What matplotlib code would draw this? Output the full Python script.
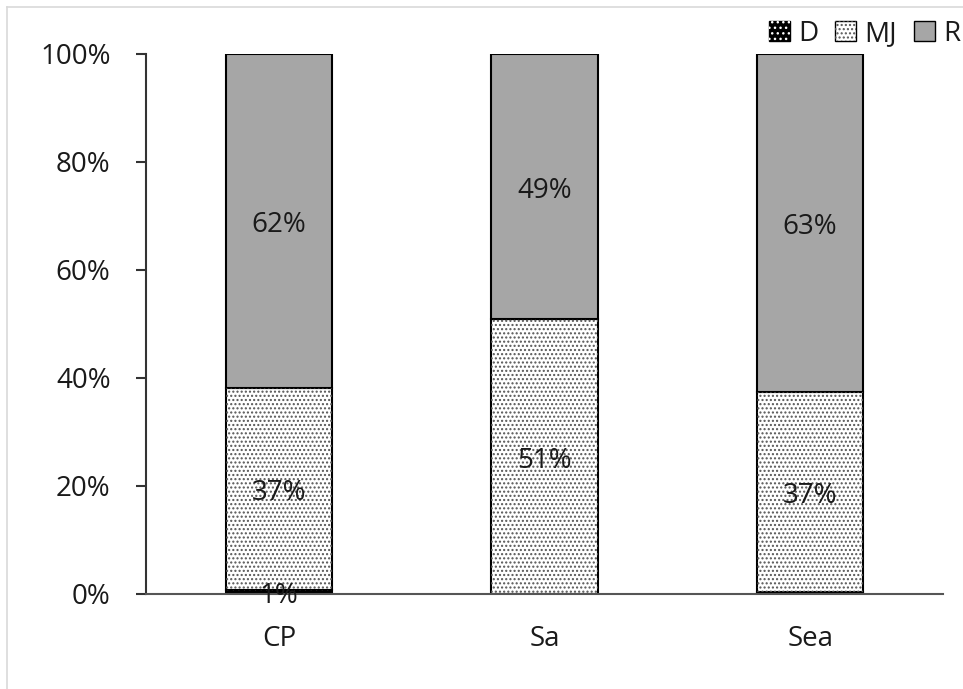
import matplotlib
matplotlib.use("Agg")
import matplotlib.pyplot as plt
from matplotlib.patches import Rectangle
from matplotlib.lines import Line2D
import matplotlib.transforms as mtransforms
import numpy as np

plt.rcParams['font.family'] = ['Open Sans', 'DejaVu Sans']
plt.rcParams['hatch.linewidth'] = 1.0

# Share of each stage per site (percent)
categories = ['CP', 'Sa', 'Sea']
d_vals = [0.7, 0.0, 0.3]
mj_vals = [37.4, 50.9, 37.1]
r_vals = [61.9, 49.1, 62.6]
series_names = ['D', 'MJ', 'R']
y_ticks = [0, 20, 40, 60, 80, 100]

W, H = 963, 689
fig = plt.figure(figsize=(W / 100, H / 100), dpi=100)
ax = fig.add_axes([146 / W, 95 / H, (943 - 146) / W, (594 - 54) / H])

x = np.arange(len(categories))
width = 0.4
text_color = '#1a1a1a'
fs = 20
mj_dot = '#555555'

d = np.array(d_vals)
mj = np.array(mj_vals)
r = np.array(r_vals)

# D: black with white dots
ax.bar(x, d, width, color='black', edgecolor='black', linewidth=1.5, zorder=2)
ax.bar(x, d, width, fill=False, edgecolor='white', hatch='...', linewidth=0, zorder=3)
# MJ: white with dark dots
ax.bar(x, mj, width, bottom=d, color='white', edgecolor='black', linewidth=1.5, zorder=2)
ax.bar(x, mj, width, bottom=d, fill=False, edgecolor=mj_dot, hatch='....',
       linewidth=0, zorder=3)
# R: solid grey
ax.bar(x, r, width, bottom=d + mj, color='#a6a6a6', edgecolor='black', linewidth=1.5,
       zorder=2)

# segment labels, nudged slightly below the segment centre
lbl_off = mtransforms.offset_copy(ax.transData, fig=fig, x=0, y=-4, units='dots')
for i in range(len(categories)):
    bottoms = [0, d[i], d[i] + mj[i]]
    for b, v in zip(bottoms, [d[i], mj[i], r[i]]):
        if round(v) >= 1:
            ax.text(x[i], b + v / 2, f"{v:.0f}%", ha='center', va='center',
                    fontsize=fs, color=text_color, zorder=5, transform=lbl_off)

ax.set_xlim(-0.5, len(categories) - 0.5)
ax.set_ylim(0, 100)
ax.set_yticks(y_ticks)
ax.set_yticklabels([f"{t}%" for t in y_ticks])
ax.set_xticks(x)
ax.set_xticklabels(categories)

for s in ['top', 'right']:
    ax.spines[s].set_visible(False)
ax.spines['left'].set_color('#333333')
ax.spines['left'].set_linewidth(1.5)
ax.spines['bottom'].set_color('#555555')
ax.spines['bottom'].set_linewidth(1.5)
ax.spines['bottom'].set_zorder(4)

ax.tick_params(axis='y', direction='out', length=7.5, width=1.5, color='#333333',
               pad=18, labelsize=fs, labelcolor=text_color)
ax.tick_params(axis='x', length=0, pad=22, labelsize=fs, labelcolor=text_color)

# legend handles
h_d = (Rectangle((0, 0), 1, 1, facecolor='black', edgecolor='black', linewidth=1),
       Rectangle((0, 0), 1, 1, fill=False, edgecolor='white', hatch='...', linewidth=0))
h_mj = (Rectangle((0, 0), 1, 1, facecolor='white', edgecolor='black', linewidth=1),
        Rectangle((0, 0), 1, 1, fill=False, edgecolor=mj_dot, hatch='....', linewidth=0))
h_r = Rectangle((0, 0), 1, 1, facecolor='#a6a6a6', edgecolor='black', linewidth=1)
fig.legend([h_d, h_mj, h_r], series_names, loc='center right',
           bbox_to_anchor=(960 / W, 1 - 34 / H), ncol=3, frameon=False,
           fontsize=fs, handlelength=0.75, handleheight=0.75, handletextpad=0.3,
           columnspacing=0.6, borderaxespad=0, borderpad=0, labelcolor=text_color)

# light chart-area frame
fig.add_artist(Line2D([7 / W, 7 / W], [1 - 7 / H, 0], transform=fig.transFigure,
                      color='#d9d9d9', linewidth=1.2))
fig.add_artist(Line2D([7 / W, 1], [1 - 7 / H, 1 - 7 / H], transform=fig.transFigure,
                      color='#d9d9d9', linewidth=1.2))

fig.savefig('out.png', dpi=100)
